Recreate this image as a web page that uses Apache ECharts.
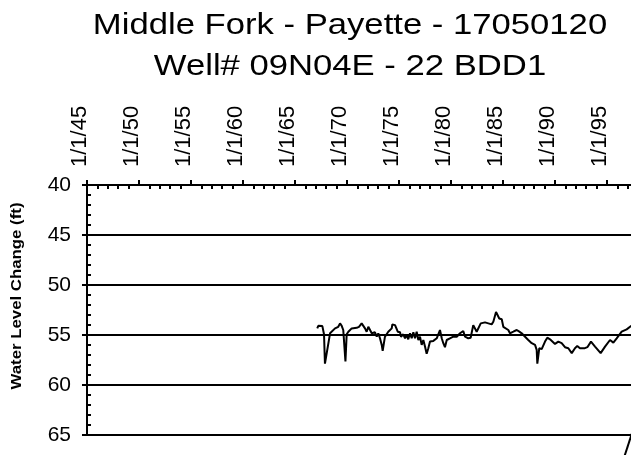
<!DOCTYPE html>
<html>
<head>
<meta charset="utf-8">
<script src="https://cdn.jsdelivr.net/npm/echarts@6/dist/echarts.min.js"></script>
<style>html,body{margin:0;padding:0;background:#fff}#c{width:631px;height:455px}</style>
</head>
<body>
<div id="c"></div>
<script>
const titleLines = ['Middle Fork - Payette - 17050120', 'Well# 09N04E - 22 BDD1'];
const yAxisTitle = 'Water Level Change (ft)';
const xTickYears = [1945, 1950, 1955, 1960, 1965, 1970, 1975, 1980, 1985, 1990, 1995, 2000];
const xTickLabels = ['1/1/45', '1/1/50', '1/1/55', '1/1/60', '1/1/65', '1/1/70', '1/1/75', '1/1/80', '1/1/85', '1/1/90', '1/1/95', '1/1/00'];
const yTickLabels = ['40', '45', '50', '55', '60', '65'];

// decimal years of measurements
const dates = [
  1967.14, 1967.24, 1967.63, 1967.79, 1967.88, 1968.37, 1968.85, 1969.16, 1969.33, 1969.49,
  1969.64, 1969.81, 1969.85, 1969.97, 1970.13, 1970.45, 1970.61, 1970.93, 1971.15, 1971.41,
  1971.57, 1971.73, 1971.89, 1972.05, 1972.21, 1972.38, 1972.53, 1972.69, 1972.86, 1973.01,
  1973.17, 1973.34, 1973.43, 1973.65, 1973.97, 1974.30, 1974.36, 1974.62, 1974.78, 1974.88,
  1975.10, 1975.19, 1975.41, 1975.58, 1975.74, 1975.89, 1976.06, 1976.22, 1976.38, 1976.54,
  1976.70, 1976.86, 1977.02, 1977.18, 1977.34, 1977.50, 1977.66, 1977.82, 1977.98, 1978.14,
  1978.30, 1978.46, 1978.63, 1978.78, 1978.94, 1979.11, 1979.26, 1979.42, 1979.59, 1979.74,
  1979.90, 1980.07, 1980.22, 1980.38, 1980.55, 1980.70, 1980.87, 1981.18, 1981.35, 1981.66,
  1981.89, 1982.14, 1982.31, 1982.47, 1982.63, 1982.86, 1983.05, 1983.27, 1983.59, 1983.91,
  1984.07, 1984.33, 1984.45, 1984.64, 1984.88, 1985.03, 1985.19, 1985.51, 1985.67, 1985.99,
  1986.32, 1986.57, 1986.80, 1986.95, 1987.12, 1987.43, 1987.76, 1988.08, 1988.24, 1988.30,
  1988.49, 1988.72, 1989.04, 1989.26, 1989.52, 1990.00, 1990.32, 1990.64, 1990.96, 1991.28,
  1991.61, 1991.92, 1992.14, 1992.40, 1992.88, 1993.11, 1993.46, 1993.85, 1994.39, 1994.81,
  1995.29, 1995.61, 1995.93, 1996.41, 1996.89, 1997.31, 1997.80
];
// water level change (ft)
const levels = [
  54.34, 54.08, 54.11, 54.93, 57.87, 54.83, 54.34, 54.18, 53.84, 54.08,
  54.50, 54.67, 57.64, 54.93, 54.67, 54.34, 54.44, 54.28, 54.18, 53.84,
  53.94, 54.34, 54.67, 54.18, 54.34, 54.83, 54.67, 54.73, 55.17, 54.83,
  55.33, 55.99, 56.58, 55.17, 54.67, 54.34, 53.94, 54.01, 54.08, 54.67,
  54.73, 55.17, 54.93, 55.33, 55.00, 55.43, 54.83, 55.33, 54.73, 55.33,
  54.67, 55.50, 55.17, 55.99, 55.50, 56.16, 56.88, 56.32, 55.66, 55.50,
  55.59, 55.66, 55.33, 55.17, 54.50, 55.33, 55.82, 56.22, 55.50, 55.66,
  55.33, 55.50, 55.17, 55.23, 55.17, 55.07, 54.83, 54.60, 55.17, 55.33,
  55.27, 54.01, 54.01, 54.67, 54.60, 53.84, 53.68, 53.74, 53.84, 53.94,
  53.68, 52.69, 52.85, 53.35, 53.42, 54.18, 54.34, 54.50, 54.83, 54.67,
  54.50, 54.67, 54.83, 54.73, 55.17, 55.50, 55.82, 55.99, 56.49, 57.87,
  56.32, 56.42, 55.66, 55.27, 55.43, 55.89, 55.66, 55.82, 56.22, 56.32,
  56.81, 56.32, 56.09, 56.32, 56.32, 56.22, 55.66, 56.16, 56.81, 56.16,
  55.50, 55.76, 55.33, 54.67, 54.44, 54.11, 53.80
];
// short segment visible at lower right (below the plotted range)
const extraDates = [1996.5, 1997.6];
const extraLevels = [67.7, 64.2];

const mainData = dates.map((d, i) => [d, levels[i]]);
const extraData = extraDates.map((d, i) => [d, extraLevels[i]]);

const FONT = '"Liberation Sans", Arial, sans-serif';
const chart = echarts.init(document.getElementById('c'), null, {renderer: 'canvas'});
chart.setOption({
  animation: false,
  backgroundColor: '#ffffff',
  grid: {left: 87, top: 185, width: 572, height: 250, containLabel: false, outerBoundsMode: 'none'},
  xAxis: {
    type: 'value', position: 'top', min: 1945, max: 2000, interval: 5,
    axisLine: {show: true, onZero: false, lineStyle: {color: '#000', width: 2}},
    axisTick: {show: true, length: 5, lineStyle: {color: '#000', width: 2}},
    minorTick: {show: true, splitNumber: 5, length: -4, lineStyle: {color: '#000', width: 2}},
    splitLine: {show: false},
    axisLabel: {
      rotate: -90, margin: 18, color: '#000', fontSize: 22, fontFamily: FONT,
      verticalAlign: 'bottom', lineHeight: 14, hideOverlap: false,
      formatter: v => { const i = xTickYears.indexOf(Math.round(v)); return i >= 0 ? xTickLabels[i] : ''; }
    }
  },
  yAxis: {
    type: 'value', inverse: true, min: 40, max: 65, interval: 5,
    axisLine: {show: true, lineStyle: {color: '#000', width: 2}},
    axisTick: {show: true, length: 5, lineStyle: {color: '#000', width: 2}},
    minorTick: {show: true, splitNumber: 5, length: -4, lineStyle: {color: '#000', width: 2}},
    splitLine: {show: true, lineStyle: {color: '#000', width: 2}},
    axisLabel: {
      margin: 16, color: '#000', fontSize: 21, fontFamily: FONT,
      formatter: v => { const i = Math.round((v - 40) / 5); return yTickLabels[i] !== undefined ? yTickLabels[i] : ''; }
    }
  },
  graphic: [
    {type: 'text', x: 350, y: 26, scaleX: 1.195,
     style: {text: titleLines[0], font: '29px ' + FONT, fill: '#000', align: 'center', verticalAlign: 'middle', textAlign: 'center', textVerticalAlign: 'middle'}},
    {type: 'text', x: 350, y: 67, scaleX: 1.195,
     style: {text: titleLines[1], font: '29px ' + FONT, fill: '#000', align: 'center', verticalAlign: 'middle', textAlign: 'center', textVerticalAlign: 'middle'}},
    {type: 'text', x: 17, y: 296, rotation: Math.PI / 2, scaleX: 1.2,
     style: {text: yAxisTitle, font: 'bold 14px ' + FONT, fill: '#000', align: 'center', verticalAlign: 'middle', textAlign: 'center', textVerticalAlign: 'middle'}}
  ],
  series: [
    {type: 'line', data: mainData, showSymbol: false, symbol: 'none', clip: true,
     lineStyle: {color: '#000', width: 2}, z: 5},
    {type: 'line', data: extraData, showSymbol: false, symbol: 'none', clip: false,
     lineStyle: {color: '#000', width: 2}, z: 5}
  ]
});
</script>
</body>
</html>
